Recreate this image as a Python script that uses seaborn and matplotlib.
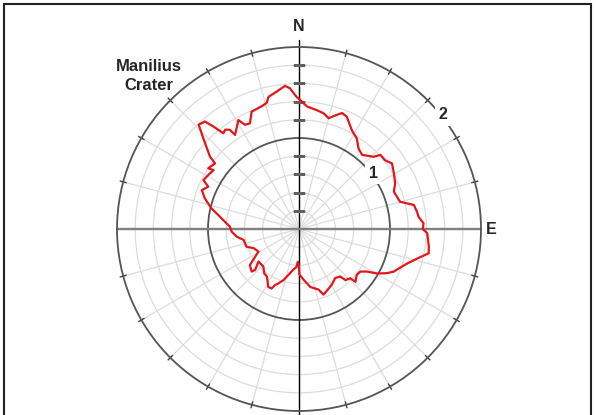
import numpy as np
import pandas as pd
import matplotlib
matplotlib.use("Agg")
import matplotlib.pyplot as plt
import seaborn as sns
from matplotlib.patches import Rectangle

# rim profile: azimuth (deg, clockwise from N) and radius
angle_deg = [0.0, 3.7, 8.6, 12.0, 15.0, 17.7, 20.4, 23.1, 28.2, 32.6, 36.5, 40.4,
             45.9, 47.7, 51.4, 54.8, 59.5, 64.6, 68.5, 74.9, 78.2, 81.6, 84.1, 87.4,
             90.0, 91.9, 97.8, 100.6, 104.0, 107.6, 110.9, 114.3, 116.7, 119.6, 122.1,
             124.8, 128.4, 133.1, 133.9, 137.7, 139.1, 143.6, 149.5, 153.4, 159.5,
             162.1, 168.9, 174.8, 179.5, 180.3, 182.0, 184.0, 187.9, 193.1, 197.1,
             200.8, 203.2, 204.7, 208.0, 214.0, 218.0, 223.4, 231.2, 227.0, 228.0,
             233.7, 240.9, 247.0, 251.4, 258.8, 263.0, 267.7, 272.0, 275.7, 279.8,
             283.3, 288.1, 291.8, 295.0, 297.1, 300.8, 304.6, 303.8, 308.0, 309.1,
             313.5, 316.1, 318.8, 320.1, 321.7, 323.4, 325.1, 325.8, 330.9, 332.6,
             335.1, 338.0, 343.0, 345.6, 347.0, 350.8, 354.4, 356.3, 359.0, 360.0]
radius = [1.43, 1.35, 1.32, 1.30, 1.26, 1.31, 1.36, 1.34, 1.23, 1.18, 1.10, 1.07,
          1.14, 1.21, 1.21, 1.25, 1.21, 1.17, 1.12, 1.15, 1.29, 1.31, 1.32, 1.37,
          1.36, 1.41, 1.44, 1.45, 1.34, 1.25, 1.19, 1.14, 1.08, 0.99, 0.88,
          0.82, 0.81, 0.85, 0.78, 0.76, 0.69, 0.67, 0.71, 0.73, 0.77,
          0.70, 0.65, 0.56, 0.50, 0.40, 0.36, 0.42, 0.45, 0.52, 0.59,
          0.64, 0.67, 0.72, 0.72, 0.63, 0.62, 0.57, 0.57, 0.66, 0.70,
          0.67, 0.51, 0.54, 0.61, 0.62, 0.69, 0.74, 0.76, 0.82, 0.90,
          0.99, 1.09, 1.15, 1.10, 1.18, 1.16, 1.14, 1.20, 1.17, 1.26,
          1.45, 1.59, 1.57, 1.47, 1.34, 1.36, 1.33, 1.25, 1.37, 1.29,
          1.28, 1.39, 1.41, 1.43, 1.49, 1.53, 1.58, 1.55, 1.45, 1.43]

ring_values = [0.2, 0.4, 0.6, 0.8, 1.0, 1.2, 1.4, 1.6, 1.8, 2.0]
spoke_deg = list(range(0, 360, 15))
axis_ticks = [0.2, 0.4, 0.6, 0.8, 1.2, 1.4, 1.6, 1.8]

sns.set_style("white")
plt.rcParams["font.family"] = ["Liberation Sans", "DejaVu Sans"]

df = pd.DataFrame({"theta": np.deg2rad(angle_deg), "r": radius})

fig = plt.figure(figsize=(5.96, 4.15), dpi=100)
ax = fig.add_axes([117 / 596, 4 / 415, 364 / 596, 364 / 415], projection="polar")
ax.set_theta_zero_location("N")
ax.set_theta_direction(-1)
ax.set_ylim(0, 2)
ax.set_rticks(ring_values)
ax.set_thetagrids(spoke_deg)
ax.set_xticklabels([])
ax.set_yticklabels([])
ax.grid(True, color="#dcdcdc", lw=0.9)
for t, v in zip(ax.yaxis.get_major_ticks(), ring_values):
    if v == 1.0:
        t.gridline.set_color("#555555")
        t.gridline.set_linewidth(1.3)
ax.spines["polar"].set_color("#555555")
ax.spines["polar"].set_linewidth(1.3)

# N-S axis (black) and E-W axis (gray)
ax.plot([0, 0], [0, 2.08], color="black", lw=1, clip_on=False)
ax.plot([np.pi, np.pi], [0, 2.2], color="black", lw=1, clip_on=False)
ax.plot([np.pi / 2, np.pi / 2], [0, 2.0], color="#808080", lw=1.7, clip_on=False)
ax.plot([3 * np.pi / 2, 3 * np.pi / 2], [0, 2.0], color="#808080", lw=1.7, clip_on=False)

# ticks across the outer ring and along the north axis
ax.vlines(np.deg2rad([a for a in spoke_deg if a % 90]), 1.96, 2.04,
          color="#404040", lw=1, clip_on=False)
ax.plot(np.zeros(len(axis_ticks)), axis_ticks, ls="none", marker="_", ms=9,
        mew=1.0, color="#606060")

sns.lineplot(data=df, x="theta", y="r", sort=False, estimator=None,
             color="#e3161b", lw=1.6, ax=ax)
ax.set_xlabel("")
ax.set_ylabel("")

bold = dict(ha="center", va="center", fontsize=11.5, fontweight="bold")
ax.text(0, 2.22, "N", **bold)
ax.text(np.pi / 2, 2.11, "E", **bold)
ax.text(np.deg2rad(52.9), 1.02, "1", bbox=dict(fc="white", ec="none", pad=2.5), **bold)
ax.text(np.deg2rad(51.6), 2.02, "2", bbox=dict(fc="white", ec="none", pad=2.5), **bold)
fig.text(149 / 596, 1 - 76 / 415, "Manilius\nCrater", ha="center", va="center",
         fontsize=12, fontweight="bold", linespacing=1.3)

fig.add_artist(Rectangle((4 / 596, -0.05), 587 / 596, 411 / 415 + 0.05,
                         transform=fig.transFigure, fill=False, ec="#222222", lw=1.5))

fig.savefig("out.png", dpi=100)
